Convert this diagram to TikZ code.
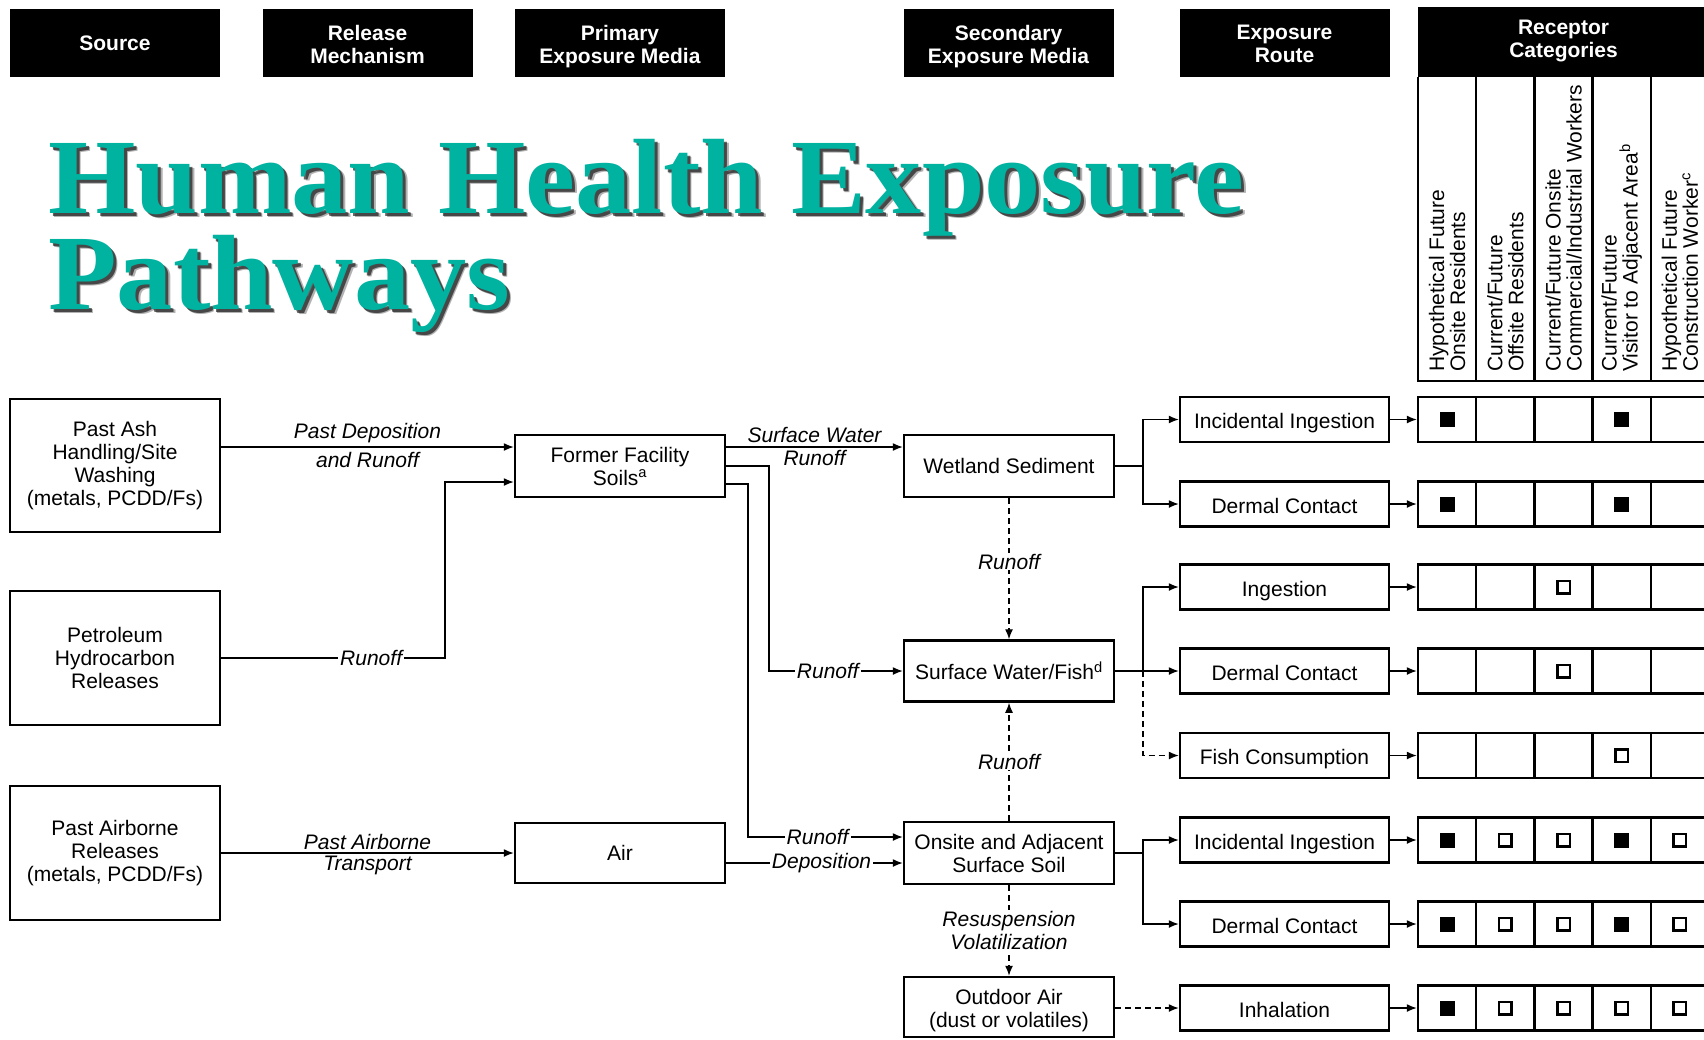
\documentclass[tikz,border=0pt]{standalone}
\usepackage{fontspec}
\setmainfont{Liberation Sans}
\newfontfamily\titlefont{Liberation Serif}
\usetikzlibrary{arrows.meta}
\definecolor{titleteal}{RGB}{0,178,160}

\tikzset{
  body/.style={font=\fontsize{21pt}{23pt}\selectfont},
  hdr/.style={fill=black, minimum width=210pt, minimum height=68pt, inner sep=0pt},
  hdrtxt/.style={text=white, font=\bfseries\fontsize{21pt}{23pt}\selectfont,
    align=center, inner sep=0pt, anchor=north},
  box/.style={draw, line width=2.5pt, align=center, minimum width=210pt, inner sep=0pt, body},
  route/.style={box, minimum width=209pt, minimum height=45pt, text height=23.6pt, text depth=5pt},
  lbl/.style={font=\itshape\fontsize{21pt}{23pt}\selectfont, align=center, inner sep=0pt},
  onlbl/.style={lbl, fill=white, inner xsep=2pt, inner ysep=1pt},
  conn/.style={line width=1.3pt, -{Latex[length=10pt,width=8pt]}},
  dashconn/.style={conn, dash pattern=on 6pt off 4pt},
  cell/.style={draw, line width=2.5pt, minimum width=58.2pt, minimum height=45pt, inner sep=0pt},
  mF/.style={fill=black, minimum size=15pt, inner sep=0pt},
  mH/.style={draw, line width=2.5pt, minimum size=12.5pt, inner sep=0pt},
  mN/.style={inner sep=0pt},
  coltext/.style={rotate=90, anchor=west, align=left, inner sep=0pt,
    font=\fontsize{21pt}{21pt}\selectfont},
  titletext/.style={anchor=base west, inner sep=0pt,
    font=\titlefont\bfseries\fontsize{107pt}{95pt}\selectfont},
}

\begin{document}
\begin{tikzpicture}[x=1pt,y=-1pt]
\fill[white] (0,0) rectangle (1704,1039);
\useasboundingbox (0,0) rectangle (1704,1039);
\clip (0,0) rectangle (1704,1039);

% ---------- column headers ----------
\node[hdr] (hsrc) at (115,43) {};
\node[hdr] (hrel) at (367.5,43) {};
\node[hdr] (hpri) at (620,43) {};
\node[hdr] (hsec) at (1008.5,43) {};
\node[hdr] (hrte) at (1284.5,43) {};
\node[hdr, anchor=north west, minimum width=300pt, minimum height=70pt] (hrec) at (1418,7) {};
\node[hdrtxt] (hsrctxt) at (115,36) {Source};
\node[hdrtxt] (hreltxt) at (367.5,25) {Release\\Mechanism};
\node[hdrtxt] (hpritxt) at (620,25) {Primary\\Exposure Media};
\node[hdrtxt] (hsectxt) at (1008.5,25) {Secondary\\Exposure Media};
\node[hdrtxt] (hrtetxt) at (1284.5,25) {Exposure\\Route};
\node[hdrtxt] (hrectxt) at (1563.5,20) {Receptor\\Categories};

% ---------- receptor category columns ----------
\draw[line width=2.5pt] (1418,77) -- (1418,381) -- (1720,381);
\foreach \x in {1476.2,1534.4,1592.6,1650.8,1709}
  \draw[line width=2.5pt] (\x,77) -- (\x,381);
\node[coltext] (k1) at (1447.1,372) {Hypothetical Future\\Onsite Residents};
\node[coltext] (k2) at (1505.3,372) {Current/Future\\Offsite Residents};
\node[coltext] (k3) at (1563.5,372) {Current/Future Onsite\\Commercial/Industrial Workers};
\node[coltext] (k4) at (1621.7,372) {Current/Future\\Visitor to Adjacent Area\textsuperscript{b}};
\node[coltext] (k5) at (1679.9,372) {Hypothetical Future\\Construction Worker\textsuperscript{c}};

% ---------- title with drop shadow ----------
\foreach \dx/\op in {4.5/0.3,3/0.6}
  \node[titletext, text=black, opacity=\op] at (48+\dx,213+\dx) {\scalebox{1.05}[1]{Human Health Exposure}};
\node[titletext, text=titleteal] (title1) at (48,213) {\scalebox{1.05}[1]{Human Health Exposure}};
\foreach \dx/\op in {4.5/0.3,3/0.6}
  \node[titletext, text=black, opacity=\op] at (48+\dx,309+\dx) {\scalebox{1.05}[1]{Pathways}};
\node[titletext, text=titleteal] (title2) at (48,309) {\scalebox{1.05}[1]{Pathways}};

% ---------- sources ----------
\node[box, minimum height=133pt] (ash) at (115,465.5) {Past Ash\\Handling/Site\\Washing\\(metals, PCDD/Fs)};
\node[box, minimum height=134pt] (pet) at (115,658) {Petroleum\\Hydrocarbon\\Releases};
\node[box, minimum height=134pt] (abn) at (115,853) {Past Airborne\\Releases\\(metals, PCDD/Fs)};

% ---------- primary media ----------
\node[box, minimum height=62pt] (ffs) at (620,466) {Former Facility\\Soils\textsuperscript{a}};
\node[box, minimum height=60pt] (air) at (620,853) {Air};

% ---------- secondary media ----------
\node[box, minimum height=62pt] (wet) at (1009,466) {Wetland Sediment};
\node[box, minimum height=61pt] (swf) at (1009,671) {Surface Water/Fish\textsuperscript{d}};
\node[box, minimum height=62pt] (ons) at (1009,853) {Onsite and Adjacent\\Surface Soil};
\node[box, minimum height=60pt] (oda) at (1009,1007) {};
\node[body, align=center, inner sep=0pt] (odatxt) at (1009,1011) {Outdoor Air\\(dust or volatiles)};

% ---------- exposure routes ----------
\node[route] (r1) at (1284.5,419.5) {Incidental Ingestion};
\node[route] (r2) at (1284.5,504) {Dermal Contact};
\node[route] (r3) at (1284.5,587) {Ingestion};
\node[route] (r4) at (1284.5,671) {Dermal Contact};
\node[route] (r5) at (1284.5,755.5) {Fish Consumption};
\node[route] (r6) at (1284.5,840) {Incidental Ingestion};
\node[route] (r7) at (1284.5,924) {Dermal Contact};
\node[route] (r8) at (1284.5,1008) {Inhalation};

% ---------- receptor cells and markers ----------
\foreach \r/\y/\ma/\mb/\mc/\md/\me in {
    1/419.5/F/N/N/F/N, 2/504/F/N/N/F/N, 3/587/N/N/H/N/N, 4/671/N/N/H/N/N,
    5/755.5/N/N/N/H/N, 6/840/F/H/H/F/H, 7/924/F/H/H/F/H, 8/1008/F/H/H/H/H} {
  \foreach \m [count=\j from 0] in {\ma,\mb,\mc,\md,\me} {
    \node[cell] (c\r-\j) at (1447.1+58.2*\j,\y) {};
    \node[m\m] (m\r-\j) at (c\r-\j) {};
  }
  \draw[conn] (r\r.east) -- (c\r-0.west);
}

% ---------- helper coordinates ----------
\coordinate (ya) at (0,447);
\coordinate (yb) at (0,482);
\coordinate (yd) at (0,484);
\coordinate (ye) at (0,837);
\coordinate (yf) at (0,863);
\coordinate (xp) at (445,0);
\coordinate (xs) at (769,0);
\coordinate (xo) at (748,0);
\coordinate (xb) at (1143,0);

% ---------- release mechanisms ----------
\draw[conn] (ash.east |- ya) -- node[lbl, yshift=14pt] {Past Deposition}
  node[lbl, yshift=-13pt] {and Runoff} (ffs.west |- ya);
\draw[conn] (pet.east) -- node[onlbl, pos=0.67] {Runoff} (xp |- pet.east)
  -- (xp |- yb) -- (ffs.west |- yb);
\draw[conn] (abn.east) -- node[lbl, yshift=11pt] {Past Airborne}
  node[lbl, yshift=-12pt] {Transport} (air.west);

% ---------- primary to secondary ----------
\draw[conn] (ffs.east |- ya) -- node[lbl, yshift=12pt] {Surface Water}
  node[lbl, yshift=-11pt] {Runoff} (wet.west |- ya);
\draw[conn] (ffs.east) -- (xs |- ffs.east) -- (xs |- swf.west)
  -- node[onlbl, pos=0.44] {Runoff} (swf.west);
\draw[conn] (ffs.east |- yd) -- (xo |- yd) -- (xo |- ye)
  -- node[onlbl, pos=0.45] {Runoff} (ons.west |- ye);
\draw[conn] (air.east |- yf) -- node[onlbl, pos=0.54] {Deposition} (ons.west |- yf);

% ---------- transfers between secondary media ----------
\draw[dashconn] (wet.south) -- node[onlbl, pos=0.45] {Runoff} (swf.north);
\draw[dashconn] (ons.north) -- node[onlbl] {Runoff} (swf.south);
\draw[dashconn] (ons.south) -- node[onlbl] {Resuspension\\Volatilization} (oda.north);

% ---------- secondary media to exposure routes ----------
\draw[conn] (wet.east) -- (xb |- wet.east) |- (r1.west);
\draw[conn] (xb |- wet.east) |- (r2.west);
\draw[conn] (swf.east) -- (r4.west);
\draw[conn] (xb |- swf.east) |- (r3.west);
\draw[dashconn] (xb |- swf.east) |- (r5.west);
\draw[conn] (ons.east) -- (xb |- ons.east) |- (r6.west);
\draw[conn] (xb |- ons.east) |- (r7.west);
\draw[dashconn] (oda.east |- r8.west) -- (r8.west);
\end{tikzpicture}
\end{document}
